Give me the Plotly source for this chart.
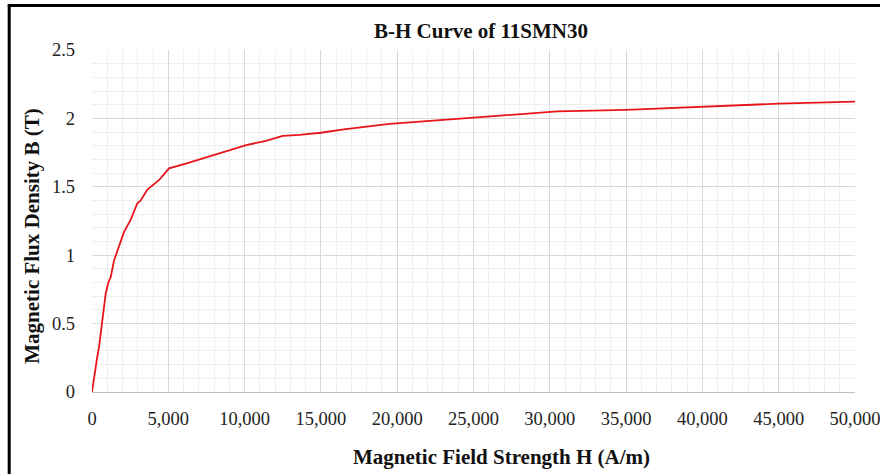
import plotly.graph_objects as go

# Data
H_values = [0, 130, 350, 460, 680, 900, 1070, 1230, 1440, 1770, 2100, 2540, 2970, 3190,
            3630, 4400, 5050, 6150, 7000, 8500, 10100, 11400, 12500, 13600, 15000, 16500,
            19500, 25000, 29000, 30500, 35000, 40000, 45000, 50000]
B_values = [0, 0.11, 0.26, 0.33, 0.53, 0.72, 0.80, 0.84, 0.96, 1.07, 1.17, 1.26, 1.38, 1.40,
            1.48, 1.55, 1.635, 1.67, 1.70, 1.75, 1.805, 1.835, 1.872, 1.879, 1.895, 1.92,
            1.96, 2.005, 2.04, 2.052, 2.062, 2.086, 2.108, 2.123]

x_ticks = [0, 5000, 10000, 15000, 20000, 25000, 30000, 35000, 40000, 45000, 50000]
y_ticks = [0, 0.5, 1, 1.5, 2, 2.5]
y_tick_labels = ["0", "0.5", "1", "1.5", "2", "2.5"]

FONT = "Liberation Serif, Times New Roman, serif"

fig = go.Figure()
fig.add_trace(go.Scatter(x=H_values, y=B_values, mode="lines",
                         line=dict(color="#e8141b", width=1.8), showlegend=False))

L, R, T, B = 92.3, 24.7, 50.2, 82.3
W, Hh = 880, 474
pw, ph = W - L - R, Hh - T - B

def px(x):
    return (x - L) / pw

def py(y):
    return (Hh - B - y) / ph

fig.update_layout(
    width=W, height=Hh,
    margin=dict(l=L, r=R, t=T, b=B, pad=0, autoexpand=False),
    paper_bgcolor="white", plot_bgcolor="white",
    font=dict(family=FONT, color="#222222", size=18),
    title=dict(text="<b>B-H Curve of 11SMN30</b>", x=481 / W, xref="container", xanchor="center",
               y=1 - 31 / Hh, yref="container", yanchor="middle",
               font=dict(family=FONT, size=21, color="#111111")),
    xaxis=dict(range=[0, 50000], tickvals=x_ticks, tickformat=",d", automargin=False,
               ticklabeloverflow="allow",
               showgrid=True, gridcolor="#d9d9d9", gridwidth=1,
               minor=dict(dtick=1000, showgrid=True, gridcolor="#efefef", gridwidth=1),
               showline=True, linecolor="#bfbfbf", linewidth=1, zeroline=False,
               ticks="", ticklabelstandoff=10, tickfont=dict(size=18.5, family=FONT)),
    yaxis=dict(range=[0, 2.5], tickvals=y_ticks, ticktext=y_tick_labels, automargin=False,
               ticklabeloverflow="allow",
               showgrid=True, gridcolor="#d9d9d9", gridwidth=1,
               minor=dict(dtick=0.1, showgrid=True, gridcolor="#efefef", gridwidth=1),
               showline=False, zeroline=False,
               ticks="", ticklabelstandoff=16, tickfont=dict(size=18.5, family=FONT)),
)

# axis titles
fig.add_annotation(text="<b>Magnetic Field Strength H (A/m)</b>", xref="paper", yref="paper",
                   x=px(502), y=py(457), xanchor="center", yanchor="middle", showarrow=False,
                   font=dict(family=FONT, size=21, color="#111111"))
fig.add_annotation(text="<b>Magnetic Flux Density B (T)</b>", xref="paper", yref="paper",
                   x=px(32), y=py(236), xanchor="center", yanchor="middle", showarrow=False,
                   textangle=-90, font=dict(family=FONT, size=21, color="#111111"))

# outer frame (left and top black border)
fig.add_shape(type="line", xref="paper", yref="paper", x0=px(9.5), x1=px(9.5),
              y0=py(5.8), y1=py(480), line=dict(color="black", width=3))
fig.add_shape(type="line", xref="paper", yref="paper", x0=px(8), x1=px(890),
              y0=py(5.8), y1=py(5.8), line=dict(color="black", width=3))

fig.write_html("out.html")
